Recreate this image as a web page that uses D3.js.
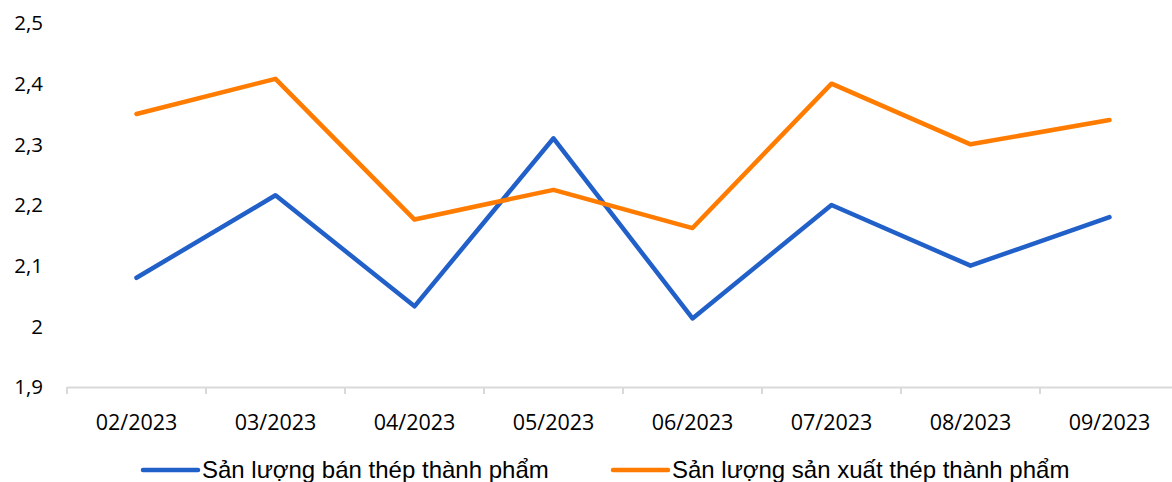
<!DOCTYPE html>
<html><head><meta charset="utf-8">
<script src="https://cdn.jsdelivr.net/npm/d3@7"></script>
<style>body{margin:0;background:#fff}svg{display:block}</style>
</head><body>
<svg id="c" width="1172" height="482"></svg>
<script>
const categories = ["02/2023","03/2023","04/2023","05/2023","06/2023","07/2023","08/2023","09/2023"];
const salesValues = [2.08, 2.216, 2.033, 2.31, 2.013, 2.2, 2.1, 2.18];
const productionValues = [2.35, 2.408, 2.176, 2.225, 2.162, 2.40, 2.30, 2.34];
const yTicks = [1.9, 2.0, 2.1, 2.2, 2.3, 2.4, 2.5];
const seriesNames = ["Sản lượng bán thép thành phẩm", "Sản lượng sản xuất thép thành phẩm"];
const colors = ["#2160C8", "#FF7C00"];

(function(){
const svg = d3.select("#c");
const mLeft = 67, mRight = 1179, mTop = 23, mBottom = 387;
const x = d3.scaleBand().domain(categories).range([mLeft, mRight]);
const y = d3.scaleLinear().domain([1.9, 2.5]).range([mBottom, mTop]);
const fmt = v => (Math.round(v*10)/10).toString().replace(".", ",");

// y labels
svg.append("g").selectAll("text").data(yTicks).join("text")
  .attr("x", 43).attr("y", d => y(d)).attr("dy", "0.35em")
  .attr("text-anchor", "end")
  .style("font-family", "'Open Sans', sans-serif").style("font-size", "20.5px").attr("fill", "#000")
  .text(fmt);

// x axis
const xa = svg.append("g").attr("transform", `translate(0,${mBottom})`)
  .call(d3.axisBottom(x).tickSize(0).tickPadding(28).tickSizeOuter(0));
xa.select(".domain").attr("stroke", "#d9d9d9").attr("stroke-width", 2);
xa.selectAll("text").style("font-family", "'Open Sans', sans-serif").style("font-size", "21.5px").attr("fill", "#000");
svg.append("g").selectAll("line").data(categories).join("line")
  .attr("x1", d => x(d)).attr("x2", d => x(d))
  .attr("y1", mBottom).attr("y2", mBottom + 7)
  .attr("stroke", "#d9d9d9").attr("stroke-width", 2);

// lines
const line = d3.line().x((d,i) => x(categories[i]) + x.bandwidth()/2).y(d => y(d));
[salesValues, productionValues].forEach((vals, k) => {
  svg.append("path").datum(vals).attr("d", line)
    .attr("fill", "none").attr("stroke", colors[k]).attr("stroke-width", 4.5)
    .attr("stroke-linejoin", "round").attr("stroke-linecap", "round");
});

// legend
const legendX = [143, 613];
seriesNames.forEach((name, k) => {
  svg.append("line").attr("x1", legendX[k]).attr("x2", legendX[k] + 55)
    .attr("y1", 470).attr("y2", 470)
    .attr("stroke", colors[k]).attr("stroke-width", 4.5).attr("stroke-linecap", "round");
  svg.append("text").attr("x", legendX[k] + 59).attr("y", 478)
    .style("font-family", "'Liberation Sans', Arial, sans-serif").style("font-size", "24px").attr("fill", "#000")
    .text(name);
});
})();
</script>
</body></html>
